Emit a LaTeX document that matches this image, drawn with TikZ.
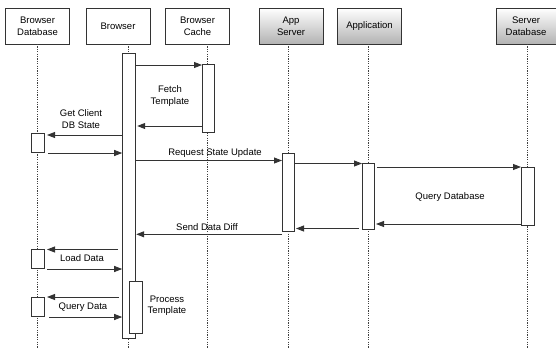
\documentclass[tikz,border=0pt]{standalone}
\usepackage{fontspec}
\setmainfont{Liberation Sans}
\usetikzlibrary{arrows.meta}
\begin{document}
\begin{tikzpicture}[x=1pt,y=-1pt,
 hdr/.style={draw=black!80, line width=0.8pt, minimum width=64pt, minimum height=36pt, align=center, font=\fontsize{9.5}{12}\selectfont, inner sep=0pt, outer sep=0pt},
 srv/.style={hdr, top color=white, bottom color=black!30},
 life/.style={draw=black!75, line width=0.8pt, dash pattern=on 1.2pt off 1.2pt},
 bar/.style={draw=black!80, fill=white, line width=0.8pt, minimum width=13pt, inner sep=0pt, outer sep=0pt, anchor=north},
 msg/.style={draw=black!80, line width=0.9pt, -{Triangle[length=8pt,width=6pt]}},
 lbl/.style={font=\fontsize{9.5}{12}\selectfont, align=center, inner sep=0pt}]
\useasboundingbox (0,0) rectangle (556,348);
% headers
\node[hdr] (hBD) at (37.5,26) {Browser\\Database};
\node[hdr] (hB)  at (118,26) {Browser};
\node[hdr] (hC)  at (197.5,26) {Browser\\Cache};
\node[srv] (hA)  at (291,26) {App\\Server};
\node[srv] (hP)  at (369.5,26) {Application};
\node[srv, minimum width=60pt] (hS) at (526,26) {Server\\Database};
% lifelines
\draw[life] (37.5,44) -- (37.5,348);
\draw[life] (128.7,44) -- (128.7,348);
\draw[life] (207.8,44) -- (207.8,348);
\draw[life] (288.2,44) -- (288.2,348);
\draw[life] (368,44) -- (368,348);
\draw[life] (527.3,44) -- (527.3,348);
% activation bars
\node[bar, minimum height=285pt] (bB) at (128.7,53) {};
\node[bar, minimum height=68pt, minimum width=12pt] (bC) at (208,64) {};
\node[bar, minimum height=19pt] (bD1) at (37.5,133) {};
\node[bar, minimum height=78pt, minimum width=12pt] (bA) at (288,153) {};
\node[bar, minimum height=66pt, minimum width=12pt] (bP) at (368,163) {};
\node[bar, minimum height=58pt] (bS) at (527.5,167) {};
\node[bar, minimum height=19pt] (bD2) at (37.5,249) {};
\node[bar, minimum height=52pt] (bR) at (135.5,281) {};
\node[bar, minimum height=19pt] (bD3) at (37.5,297) {};
% messages
\draw[msg] (bB.east |- 0,65) -- (bC.west |- 0,65);
\draw[msg] (bC.west |- 0,126) -- ([xshift=2pt]bB.east |- 0,126);
\draw[msg] (bB.west |- 0,135) -- ([xshift=3pt]bD1.east |- 0,135);
\draw[msg] ([xshift=4pt]bD1.east |- 0,153) -- (bB.west |- 0,153);
\draw[msg] (bB.east |- 0,160.5) -- (bA.west |- 0,160.5);
\draw[msg] (bA.east |- 0,163.5) -- (bP.west |- 0,163.5);
\draw[msg] ([xshift=3pt]bP.east |- 0,167) -- (bS.west |- 0,167);
\draw[msg] (bS.west |- 0,224) -- ([xshift=2pt]bP.east |- 0,224);
\draw[msg] ([xshift=-3pt]bP.west |- 0,228.5) -- ([xshift=2pt]bA.east |- 0,228.5);
\draw[msg] (bA.west |- 0,234.3) -- ([xshift=1pt]bB.east |- 0,234.3);
\draw[msg] ([xshift=-4pt]bB.west |- 0,249.5) -- ([xshift=3pt]bD2.east |- 0,249.5);
\draw[msg] ([xshift=3pt]bD2.east |- 0,269) -- (bB.west |- 0,269);
\draw[msg] ([xshift=-3pt]bB.west |- 0,297) -- ([xshift=3pt]bD3.east |- 0,297);
\draw[msg] ([xshift=5pt]bD3.east |- 0,317) -- (bB.west |- 0,317);
% labels
\node[lbl] (l1) at (170,96.5) {Fetch\\Template};
\node[lbl] (l2) at (81,119) {Get Client\\DB State};
\node[lbl] (l3) at (215,153.3) {Request State Update};
\node[lbl] (l4) at (450,196.7) {Query Database};
\node[lbl] (l5) at (207,226.7) {Send Data Diff};
\node[lbl] (l6) at (82,258) {Load Data};
\node[lbl, font=\fontsize{9.5}{11.5}\selectfont] (l7) at (167,305.5) {Process\\Template};
\node[lbl] (l8) at (83,307.3) {Query Data};
\end{tikzpicture}
\end{document}
